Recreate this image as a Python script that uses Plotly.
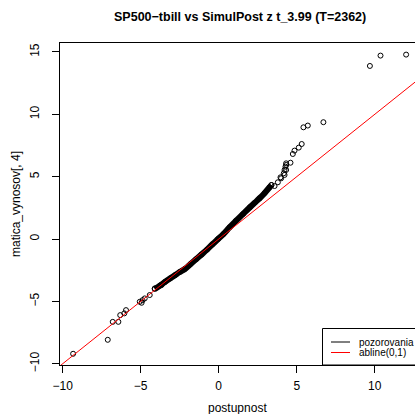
import plotly.graph_objects as go

# ---- data ----
# separate (tail) observations: theoretical quantile (x) vs observed (y)
tail_x = [-9.33, -7.11, -6.79, -6.43, -6.31, -6.05, -5.94, -5.06, -4.94, -4.88, -4.74, -4.42, -4.10, -3.67,
          3.38, 3.58, 3.79, 3.96, 4.00, 4.17, 4.22, 4.22, 4.28, 4.32, 4.32, 4.32, 4.60, 4.75, 4.86, 5.13, 5.32,
          5.43, 5.71, 6.71, 9.69, 10.37, 12.01]
tail_y = [-9.20, -8.08, -6.64, -6.64, -6.10, -5.96, -5.70, -5.03, -5.11, -4.90, -4.76, -4.49, -3.96, -3.69,
          4.33, 4.25, 4.55, 4.95, 4.87, 5.27, 5.14, 5.54, 5.80, 5.54, 5.94, 6.07, 6.12, 6.82, 7.09, 7.33, 7.62,
          8.96, 9.10, 9.37, 13.88, 14.71, 14.79]

# dense central band of observations
band_x = [-4.10, -3.75, -3.45, -3.10, -2.80, -2.50, -2.17, -1.80, -1.45, -1.11, -0.75, -0.40, -0.04,
          0.30, 0.70, 1.10, 1.55, 2.00, 2.30, 2.62, 2.95, 3.26, 3.38]
band_y = [-4.00, -3.72, -3.45, -3.15, -2.90, -2.65, -2.40, -2.00, -1.62, -1.25, -0.85, -0.42, 0.00,
          0.40, 0.95, 1.45, 2.00, 2.55, 2.90, 3.27, 3.70, 4.15, 4.33]

# abline(0, 1)
ab_intercept = 0.0
ab_slope = 1.0

x_range = [-10.17, 12.58]
y_range = [-10.10, 15.72]
x_ticks = [-10, -5, 0, 5, 10]
x_ticktext = ["\u221210", "\u22125", "0", "5", "10"]
y_ticks = [-10, -5, 0, 5, 10, 15]
y_ticktext = ["\u221210", "\u22125", "0", "5", "10", "15"]

title_text = "SP500\u2212tbill vs SimulPost z t_3.99 (T=2362)"
x_title = "postupnost"
y_title = "matica_vynosov[, 4]"
legend_labels = ["pozorovania", "abline(0,1)"]

FONT = "Liberation Sans, Arial, Helvetica, sans-serif"

fig = go.Figure()

# dense band drawn as thick line through the read points + circles
fig.add_trace(go.Scatter(
    x=band_x, y=band_y, mode="lines+markers",
    line=dict(color="black", width=6, shape="spline"),
    marker=dict(symbol="circle-open", size=5, color="black", line=dict(width=1)),
    showlegend=False, hoverinfo="skip"))

fig.add_trace(go.Scatter(
    x=tail_x, y=tail_y, mode="markers",
    marker=dict(symbol="circle-open", size=5, color="black", line=dict(width=1)),
    showlegend=False, hoverinfo="skip"))

ab_x = [x_range[0] - 1, x_range[1] + 1]
ab_y = [ab_intercept + ab_slope * v for v in ab_x]
fig.add_trace(go.Scatter(
    x=ab_x, y=ab_y, mode="lines",
    line=dict(color="#FF0000", width=1),
    showlegend=False, hoverinfo="skip"))

# plot geometry (pixels)
L, R, T, B = 60, 0, 43, 49
W, H = 415, 414
pw = W - L - R
ph = H - T - B

def px_x(p):
    return (p - L) / pw

def px_y(p):
    return (H - B - p) / ph

fig.update_layout(
    width=W, height=H,
    margin=dict(l=L, r=R, t=T, b=B, pad=0),
    paper_bgcolor="white", plot_bgcolor="white",
    font=dict(family=FONT, size=12, color="black"),
    showlegend=False,
    xaxis=dict(range=x_range, tickvals=x_ticks, ticktext=x_ticktext,
               showline=True, linecolor="black", linewidth=1, mirror=True,
               ticks="outside", ticklen=7, tickwidth=1, tickcolor="black",
               showgrid=False, zeroline=False, ticklabelstandoff=3,
               tickfont=dict(family=FONT, size=12, color="black")),
    yaxis=dict(range=y_range, tickvals=y_ticks, ticktext=y_ticktext,
               showline=True, linecolor="black", linewidth=1, mirror=False,
               ticks="outside", ticklen=7, tickwidth=1, tickcolor="black",
               showgrid=False, zeroline=False, tickangle=-90, ticklabelstandoff=8,
               tickfont=dict(family=FONT, size=12, color="black")),
)

annotations = [
    dict(text="<b>" + title_text + "</b>", xref="paper", yref="paper",
         x=px_x(240), y=px_y(17), xanchor="center", yanchor="middle",
         showarrow=False, font=dict(family=FONT, size=12.5, color="black")),
    dict(text=x_title, xref="paper", yref="paper",
         x=px_x(237), y=px_y(408), xanchor="center", yanchor="middle",
         showarrow=False, font=dict(family=FONT, size=12, color="black")),
    dict(text=y_title, xref="paper", yref="paper",
         x=px_x(16), y=px_y(204), xanchor="center", yanchor="middle",
         textangle=-90, showarrow=False, font=dict(family=FONT, size=12, color="black")),
    dict(text=legend_labels[0], xref="paper", yref="paper",
         x=px_x(357), y=px_y(342), xanchor="left", yanchor="middle",
         showarrow=False, font=dict(family=FONT, size=10, color="black")),
    dict(text=legend_labels[1], xref="paper", yref="paper",
         x=px_x(357), y=px_y(352.5), xanchor="left", yanchor="middle",
         showarrow=False, font=dict(family=FONT, size=10, color="black")),
]
fig.update_layout(annotations=annotations)

shapes = [
    dict(type="rect", xref="paper", yref="paper",
         x0=px_x(322.5), x1=px_x(430), y0=px_y(365), y1=px_y(328.5),
         fillcolor="white", line=dict(color="black", width=1), layer="above"),
    dict(type="line", xref="paper", yref="paper",
         x0=px_x(331), x1=px_x(350), y0=px_y(342), y1=px_y(342),
         line=dict(color="black", width=1), layer="above"),
    dict(type="line", xref="paper", yref="paper",
         x0=px_x(331), x1=px_x(350), y0=px_y(352.5), y1=px_y(352.5),
         line=dict(color="#FF0000", width=1), layer="above"),
]
fig.update_layout(shapes=shapes)

fig.write_html("out.html")
